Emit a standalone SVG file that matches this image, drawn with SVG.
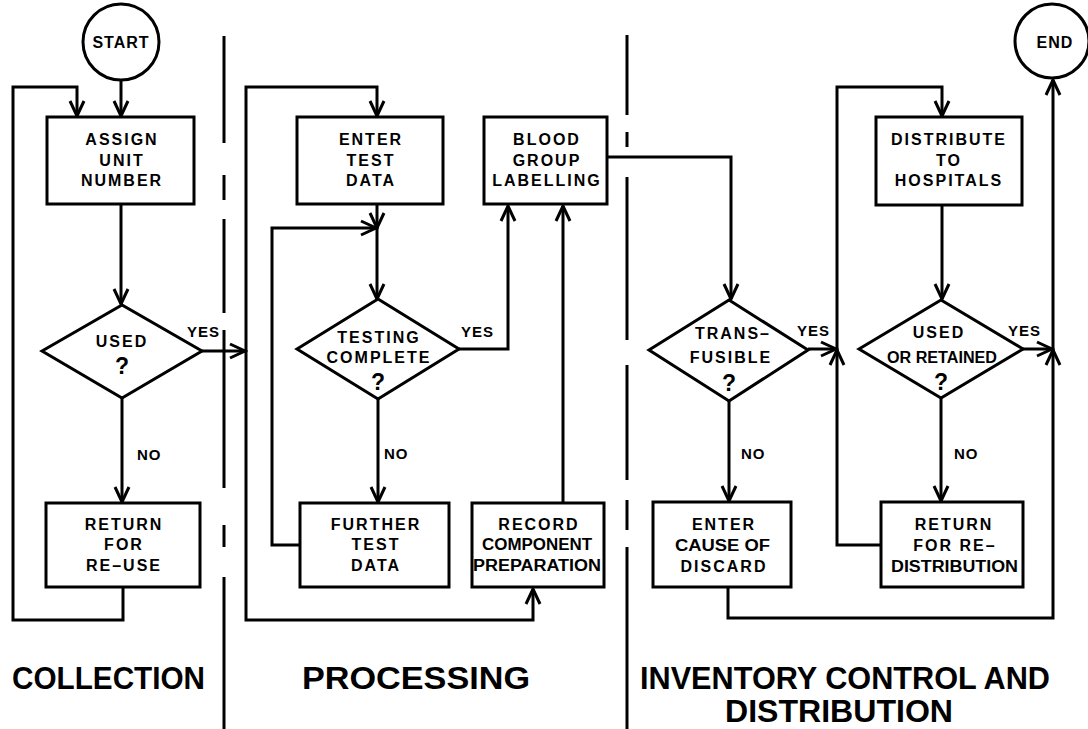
<svg xmlns="http://www.w3.org/2000/svg" width="1088" height="729" viewBox="0 0 1088 729">
<defs>
<style>
.ln{fill:none;stroke:#000;stroke-width:3}
.bx{fill:#fff;stroke:#000;stroke-width:3}
.dv{stroke:#000;stroke-width:3;fill:none}
.n{font-family:"Liberation Sans",Arial,sans-serif;font-weight:bold;font-size:16px;letter-spacing:2px;text-anchor:middle;fill:#000}
.c{font-family:"Liberation Sans",Arial,sans-serif;font-weight:bold;font-size:16px;text-anchor:start;fill:#000}
.q{font-family:"Liberation Sans",Arial,sans-serif;font-weight:bold;font-size:23px;text-anchor:middle;fill:#000}
.lb{font-family:"Liberation Sans",Arial,sans-serif;font-weight:bold;font-size:15px;letter-spacing:1px;fill:#000}
.t{font-family:"Liberation Sans",Arial,sans-serif;font-weight:bold;font-size:16px;letter-spacing:1px;text-anchor:middle;fill:#000}
.s{font-family:"Liberation Sans",Arial,sans-serif;font-weight:bold;font-size:32px;fill:#000}
</style>
<marker id="ah" markerUnits="userSpaceOnUse" viewBox="0 0 20 20" refX="17" refY="10" markerWidth="20" markerHeight="20" orient="auto">
<path d="M2,3 L17,10 L2,17" fill="none" stroke="#000" stroke-width="3"/>
</marker>
</defs>
<rect width="1088" height="729" fill="#fff"/>

<g id="dividers">
<path class="dv" d="M224,36V143M224,175V200M224,219V313M224,330V488M224,525V547M224,577V729"/>
<path class="dv" d="M627,35V115M627,132V147M627,177V340M627,365V480M627,500V530M627,547V729"/>
</g>

<g id="connectors">
<path class="ln" d="M121,79V116" marker-end="url(#ah)"/>
<path class="ln" d="M123,587V620H13V87H77V116" marker-end="url(#ah)"/>
<path class="ln" d="M121,204V304" marker-end="url(#ah)"/>
<path class="ln" d="M122,398V502" marker-end="url(#ah)"/>
<path class="ln" d="M202,351H245" marker-end="url(#ah)"/>
<path class="ln" d="M246,351V87H377V116" marker-end="url(#ah)"/>
<path class="ln" d="M246,351V620H533V589" marker-end="url(#ah)"/>
<path class="ln" d="M377,204V228" marker-end="url(#ah)"/>
<path class="ln" d="M377,228V299" marker-end="url(#ah)"/>
<path class="ln" d="M300,545H272V228H376" marker-end="url(#ah)"/>
<path class="ln" d="M459,349H508V206" marker-end="url(#ah)"/>
<path class="ln" d="M378,399V502" marker-end="url(#ah)"/>
<path class="ln" d="M563,503V206" marker-end="url(#ah)"/>
<path class="ln" d="M607,157H731V299" marker-end="url(#ah)"/>
<path class="ln" d="M729,401V501" marker-end="url(#ah)"/>
<path class="ln" d="M808,349H836" marker-end="url(#ah)"/>
<path class="ln" d="M881,545H837V350" marker-end="url(#ah)"/>
<path class="ln" d="M837,350V87H942V116" marker-end="url(#ah)"/>
<path class="ln" d="M942,205V299" marker-end="url(#ah)"/>
<path class="ln" d="M941,398V501" marker-end="url(#ah)"/>
<path class="ln" d="M1023,349H1052" marker-end="url(#ah)"/>
<path class="ln" d="M728,587V618H1053V350" marker-end="url(#ah)"/>
<path class="ln" d="M1053,350V80" marker-end="url(#ah)"/>
</g>

<g id="start">
<circle class="bx" cx="121" cy="42" r="38"/>
<text class="t" x="121" y="48">START</text>
</g>
<g id="end">
<circle class="bx" cx="1052" cy="41" r="37"/>
<text class="t" x="1055" y="48">END</text>
</g>

<g id="assign">
<rect class="bx" x="47" y="117" width="147" height="87"/>
<text class="n" x="122" y="145">ASSIGN</text>
<text class="n" x="122" y="166">UNIT</text>
<text class="n" x="122" y="186">NUMBER</text>
</g>
<g id="used">
<polygon class="bx" points="42,351 122,305 202,351 122,398"/>
<text class="n" x="122" y="347">USED</text>
<text class="q" x="122" y="374">?</text>
</g>
<g id="return-reuse">
<rect class="bx" x="46" y="503" width="154" height="84"/>
<text class="n" x="124" y="530">RETURN</text>
<text class="n" x="124" y="550">FOR</text>
<text class="n" x="124" y="571">RE–USE</text>
</g>

<g id="enter-test">
<rect class="bx" x="297" y="117" width="146" height="87"/>
<text class="n" x="371" y="145">ENTER</text>
<text class="n" x="371" y="166">TEST</text>
<text class="n" x="371" y="186">DATA</text>
</g>
<g id="testing">
<polygon class="bx" points="297,349 378,299 459,349 378,399"/>
<text class="n" x="379" y="343">TESTING</text>
<text class="n" x="379" y="363">COMPLETE</text>
<text class="q" x="378" y="390">?</text>
</g>
<g id="further">
<rect class="bx" x="300" y="503" width="149" height="84"/>
<text class="n" x="376" y="530">FURTHER</text>
<text class="n" x="376" y="550">TEST</text>
<text class="n" x="376" y="571">DATA</text>
</g>
<g id="blood">
<rect class="bx" x="484" y="117" width="123" height="87"/>
<text class="n" x="547" y="145">BLOOD</text>
<text class="n" x="547" y="166">GROUP</text>
<text class="n" x="547" y="186">LABELLING</text>
</g>
<g id="record">
<rect class="bx" x="472" y="503" width="132" height="84"/>
<text class="n" x="539" y="530">RECORD</text>
<text class="c" x="482" y="550" textLength="110" lengthAdjust="spacingAndGlyphs">COMPONENT</text>
<text class="c" x="473" y="571" textLength="128" lengthAdjust="spacingAndGlyphs">PREPARATION</text>
</g>

<g id="transfusible">
<polygon class="bx" points="649,350 729,300 808,350 729,401"/>
<text class="n" x="733" y="339">TRANS–</text>
<text class="n" x="731" y="363">FUSIBLE</text>
<text class="q" x="729" y="391">?</text>
</g>
<g id="enter-cause">
<rect class="bx" x="653" y="502" width="138" height="85"/>
<text class="n" x="724" y="530">ENTER</text>
<text class="c" x="675" y="551" textLength="95" lengthAdjust="spacingAndGlyphs">CAUSE OF</text>
<text class="n" x="724" y="572">DISCARD</text>
</g>
<g id="distribute">
<rect class="bx" x="876" y="117" width="146" height="88"/>
<text class="n" x="949" y="145">DISTRIBUTE</text>
<text class="n" x="949" y="166">TO</text>
<text class="n" x="949" y="186">HOSPITALS</text>
</g>
<g id="used-retained">
<polygon class="bx" points="859,349 941,300 1023,349 941,398"/>
<text class="n" x="939" y="338">USED</text>
<text class="c" x="887" y="363" textLength="110" lengthAdjust="spacingAndGlyphs">OR RETAINED</text>
<text class="q" x="941" y="390">?</text>
</g>
<g id="return-redist">
<rect class="bx" x="881" y="502" width="142" height="85"/>
<text class="n" x="954" y="530">RETURN</text>
<text class="n" x="955" y="551">FOR RE–</text>
<text class="c" x="891" y="572" textLength="127" lengthAdjust="spacingAndGlyphs">DISTRIBUTION</text>
</g>

<g id="labels">
<text class="lb" x="187" y="337">YES</text>
<text class="lb" x="137" y="460">NO</text>
<text class="lb" x="461" y="337">YES</text>
<text class="lb" x="384" y="459">NO</text>
<text class="lb" x="797" y="336">YES</text>
<text class="lb" x="741" y="459">NO</text>
<text class="lb" x="1008" y="336">YES</text>
<text class="lb" x="954" y="459">NO</text>
</g>

<g id="sections">
<text class="s" x="12" y="689" textLength="193" lengthAdjust="spacingAndGlyphs">COLLECTION</text>
<text class="s" x="302" y="689" textLength="228" lengthAdjust="spacingAndGlyphs">PROCESSING</text>
<text class="s" x="640" y="689" textLength="410" lengthAdjust="spacingAndGlyphs">INVENTORY CONTROL AND</text>
<text class="s" x="725" y="722" textLength="228" lengthAdjust="spacingAndGlyphs">DISTRIBUTION</text>
</g>
</svg>
